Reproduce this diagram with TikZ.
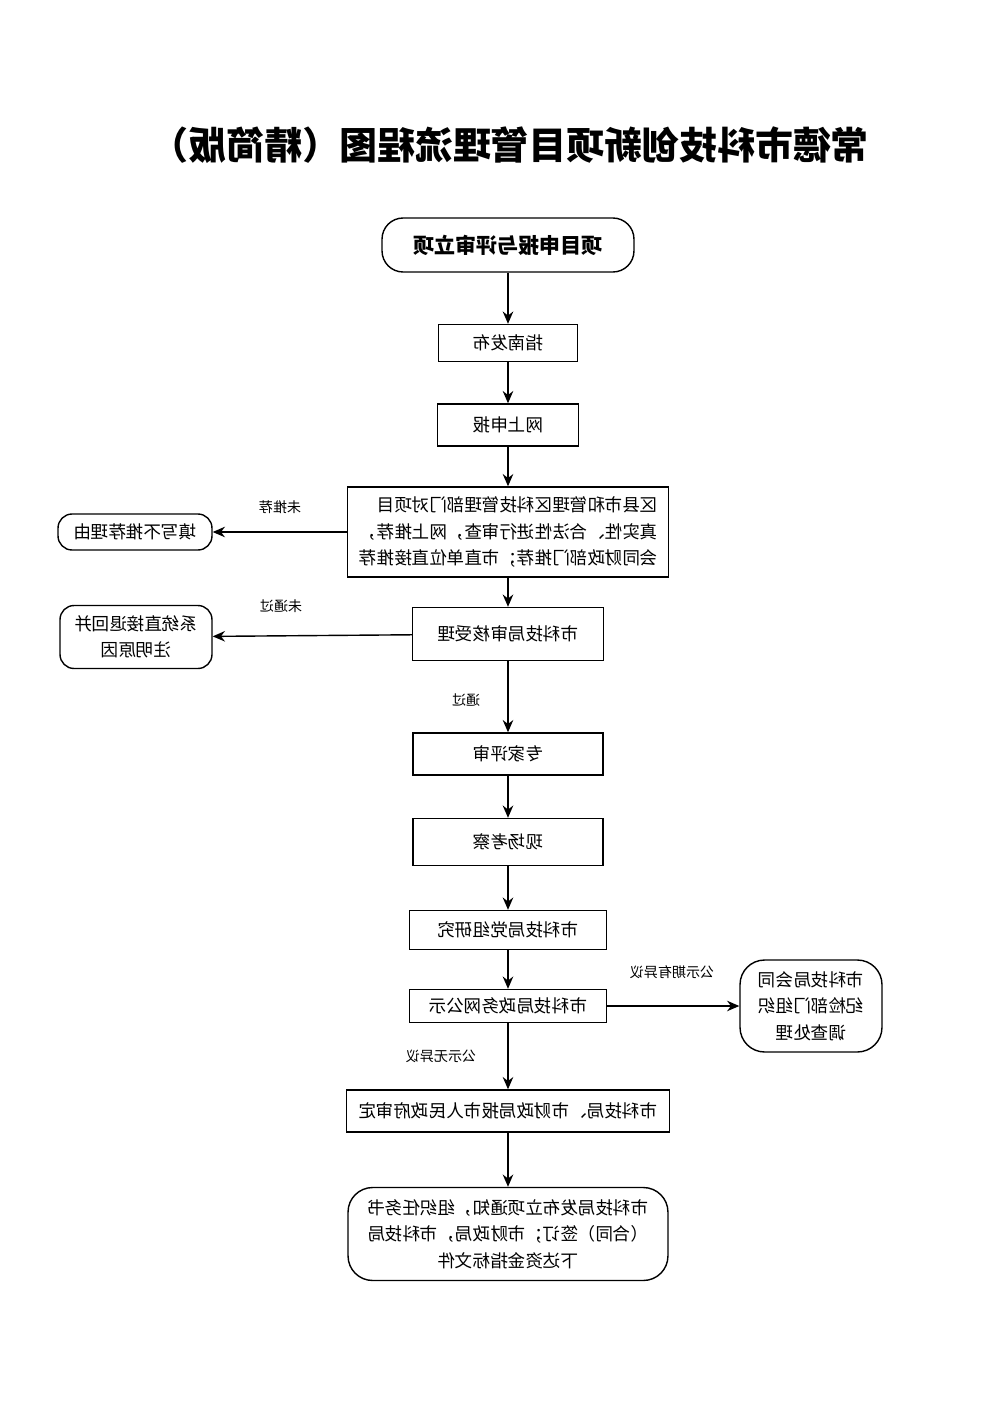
\documentclass[tikz,border=0pt]{standalone}
\usepackage{fontspec}
\newfontfamily\cjk{Noto Sans CJK SC}
\usetikzlibrary{arrows.meta}
\tikzset{
  box/.style={draw,thick,xscale=-1,transform shape,font=\cjk\fontsize{10}{15}\selectfont,align=center,inner sep=0pt},
  rbox/.style={box,rounded corners=8pt},
  lab/.style={xscale=-1,transform shape,font=\cjk\fontsize{8}{10}\selectfont},
  arr/.style={-{Stealth[length=7pt,width=6pt]},thick}
}
\begin{document}
\begin{tikzpicture}[x=0.02cm,y=-0.02cm]
  \useasboundingbox (0,0) rectangle (1000,1416);
  \node[xscale=-1,transform shape,font=\cjk\bfseries\fontsize{21.5}{24}\selectfont] (title) at (510,145) {常德市科技创新项目管理流程图（精简版）};
  \node[rbox,minimum width=5.04cm,minimum height=1.08cm,font=\cjk\bfseries\fontsize{12}{15}\selectfont,rounded corners=12pt] (apply) at (508,245) {项目申报与评审立项};
  \node[box,minimum width=2.78cm,minimum height=0.74cm] (guide) at (508,343) {指南发布};
  \node[box,minimum width=2.82cm,minimum height=0.84cm] (online) at (508,425) {网上申报};
  \node[box,minimum width=6.42cm,minimum height=1.8cm,text width=6cm,align=left] (county) at (508,532) {区县市和管理区科技管理部门对项目\\真实性、合法性进行审查，网上推荐，\\会同财政部门推荐；市直单位直接推荐};
  \node[rbox,minimum width=3.08cm,minimum height=0.72cm] (reason) at (135,532) {填写不推荐理由};
  \node[box,minimum width=3.82cm,minimum height=1.06cm] (accept) at (508,634) {市科技局审核受理};
  \node[rbox,minimum width=3.04cm,minimum height=1.26cm] (back) at (136,637) {系统直接退回并\\注明原因};
  \node[box,minimum width=3.8cm,minimum height=0.84cm] (expert) at (508,754) {专家评审};
  \node[box,minimum width=3.8cm,minimum height=0.94cm] (visit) at (508,842) {现场考察};
  \node[box,minimum width=3.94cm,minimum height=0.78cm] (party) at (508,930) {市科技局党组研究};
  \node[box,minimum width=3.94cm,minimum height=0.66cm] (publish) at (508,1006) {市科技局政务网公示};
  \node[rbox,minimum width=2.84cm,minimum height=1.84cm,rounded corners=14pt] (check) at (811,1006) {市科技局会同\\纪检部门组织\\调查处理};
  \node[box,minimum width=6.46cm,minimum height=0.84cm] (gov) at (508,1111) {市科技局、市财政局报市人民政府审定};
  \node[rbox,minimum width=6.4cm,minimum height=1.86cm,text width=6cm,rounded corners=14pt] (notice) at (508,1234) {市科技局发布立项通知，组织任务书\\（合同）签订；市财政局，市科技局\\下达资金指标文件};
  % arrows
  \draw[arr] (apply) -- (guide);
  \draw[arr] (guide) -- (online);
  \draw[arr] (online) -- (county);
  \draw[arr] (county) -- (accept);
  \draw[arr] (accept) -- (expert);
  \draw[arr] (expert) -- (visit);
  \draw[arr] (visit) -- (party);
  \draw[arr] (party) -- (publish);
  \draw[arr] (publish) -- (gov);
  \draw[arr] (gov) -- (notice);
  \draw[arr] (county) -- (reason);
  \draw[arr] (accept) -- (back);
  \draw[arr] (publish) -- (check);
  % labels
  \node[lab] (l1) at (280,507) {未推荐};
  \node[lab] (l2) at (281,606) {未通过};
  \node[lab] (l3) at (466,700) {通过};
  \node[lab] (l4) at (672,972) {公示期有异议};
  \node[lab] (l5) at (441,1056) {公示无异议};
\end{tikzpicture}
\end{document}
